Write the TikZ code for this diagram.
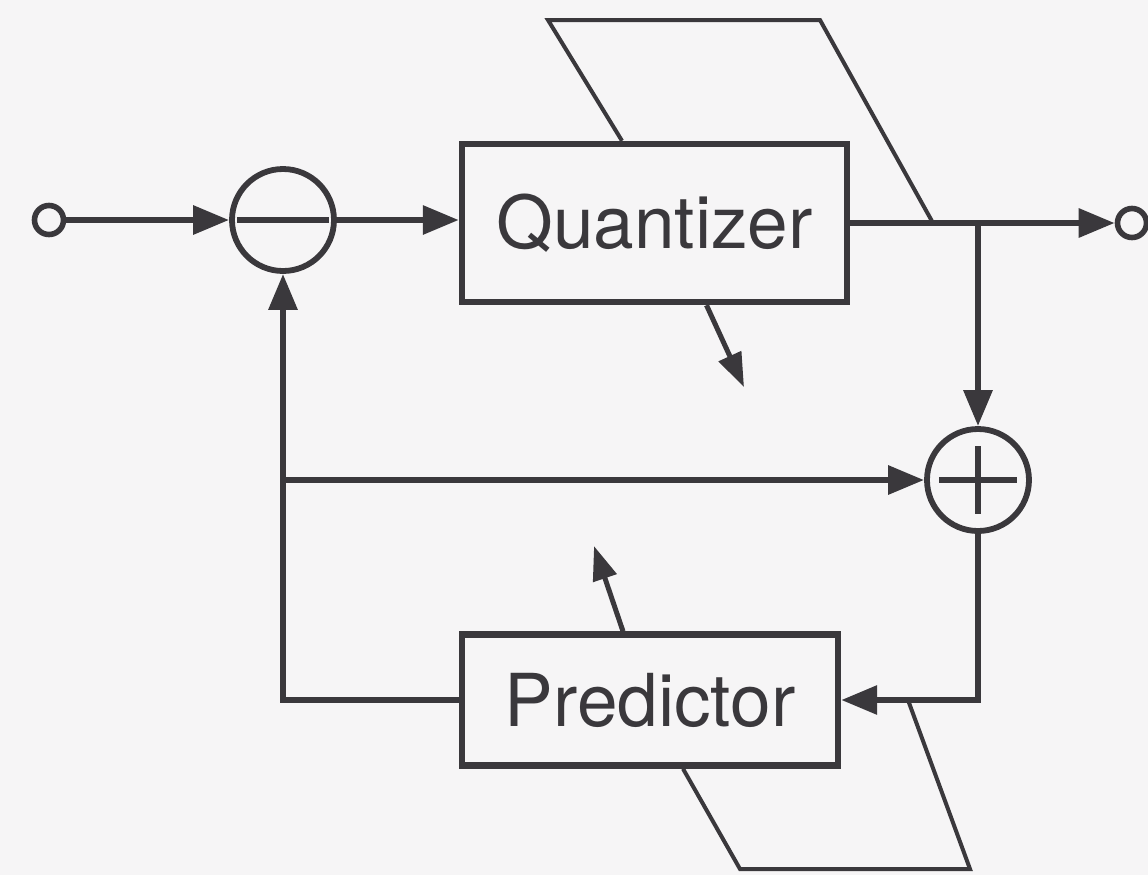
\documentclass[tikz,border=0pt]{standalone}
\usepackage{fontspec}
\setmainfont{TeX Gyre Heros}
\usetikzlibrary{arrows.meta,positioning,calc}
\definecolor{inkgray}{RGB}{58,56,60}
\definecolor{papergray}{RGB}{246,245,246}
\tikzset{
  blockbox/.style={draw=inkgray, line width=3.2pt, text=inkgray,
    inner sep=0pt, font=\fontsize{36.5pt}{40pt}\selectfont},
  sumnode/.style={draw=inkgray, circle, line width=2.9pt,
    minimum size=51pt, inner sep=0pt},
  portnode/.style={draw=inkgray, circle, line width=2.8pt,
    minimum size=14.5pt, inner sep=0pt},
  arr/.style={-{Triangle[length=18pt,width=14pt]}, line width=3.1pt, inkgray},
  tickarr/.style={-{Triangle[length=17pt,width=12pt]}, line width=2.5pt, inkgray},
  slant/.style={line width=2pt, inkgray, line join=miter},
}

\begin{document}
\begin{tikzpicture}[x=0.5pt, y=-0.5pt,
  line cap=butt]
  \useasboundingbox[fill=papergray] (0,0) rectangle (1148,875);

  % ports and summing points
  \node[portnode] (in) at (49,220) {};
  \node[sumnode] (sub) at (283,220) {};
  \node[sumnode] (adder) at (978,480) {};
  \node[portnode] (out) at (1132,223) {};

  % blocks
  \node[blockbox, minimum width=192.5pt, minimum height=79pt] (quant) at (654.5,223) {Quantizer};
  \node[blockbox, minimum width=188pt, minimum height=65.5pt] (pred) at (650,700) {Predictor};

  % signs
  \draw[line width=2.9pt, inkgray] ([xshift=4pt]sub.west) -- ([xshift=-4pt]sub.east);
  \draw[line width=2.9pt, inkgray] ([xshift=-19.5pt]adder.center) -- ([xshift=19.5pt]adder.center);
  \draw[line width=2.9pt, inkgray] ([yshift=17pt]adder.center) -- ([yshift=-17pt]adder.center);

  % forward path
  \coordinate (branch) at (quant.east -| adder.north);
  \coordinate (tap) at (sub.south |- adder.west);
  \draw[arr] (in.east) -- (sub.west);
  \draw[arr] (sub.east) -- (sub.east -| quant.west);
  \draw[arr] (quant.east) -- (out.west);
  \draw[arr] (branch) -- (adder.north);

  % feedback
  \draw[arr] (tap) -- (adder.west);
  \draw[arr] (adder.south) |- (pred.east);
  \draw[arr] (pred.west) -| (sub.south);

  % adaptation arrows
  \coordinate (qtip) at (744,387);
  \coordinate (ptip) at (594,546);
  \draw[tickarr] ([xshift=26pt]quant.south) -- (qtip);
  \draw[tickarr] ([xshift=-13.5pt]pred.north) -- (ptip);

  % step size and predictor loops
  \draw[slant] (622,0 |- quant.north) -- (548,20) -- (820,20) -- (933,0 |- branch);
  \draw[slant] (683,0 |- pred.south) -- (740,869) -- (970,869) -- (908,0 |- pred.east);
\end{tikzpicture}
\end{document}
